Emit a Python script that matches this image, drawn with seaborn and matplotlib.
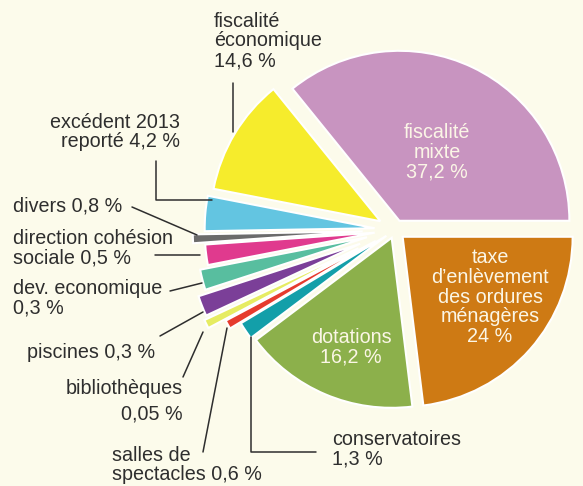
import matplotlib
matplotlib.use('Agg')
import matplotlib.pyplot as plt
import seaborn as sns

# ------------------------------------------------------------
# Data (budget revenue shares)
# ------------------------------------------------------------
categories = ['fiscalité mixte', 'fiscalité économique', 'excédent 2013 reporté',
              'divers', 'direction cohésion sociale', 'dev. economique', 'piscines',
              'bibliothèques', 'salles de spectacles', 'conservatoires', 'dotations',
              'taxe d’enlèvement des ordures ménagères']
percent = [37.2, 14.6, 4.2, 0.8, 0.5, 0.3, 0.3, 0.05, 0.6, 1.3, 16.2, 24]
# the original drawing is not to scale: angular width of each slice as drawn (degrees)
drawn_deg = [129, 40, 12, 3, 7, 7, 7, 3, 3, 6, 60, 83]

colors = ['#C894C0', '#F6EC2C', '#63C5E1', '#6B6B6B', '#E03A8E', '#58BE9F',
          '#7B3F98', '#E6EC62', '#E63B2E', '#139FA9', '#8CB04B', '#CE7A14']
explode = [0.06, 0.1, 0.12, 0.19, 0.12, 0.17, 0.22, 0.24, 0.13, 0.06, 0.05, 0.06]


def fmt(v):
    return f'{v:g}'.replace('.', ',') + ' %'


sns.set_theme(style='white')
plt.rcParams['font.family'] = ['Liberation Sans', 'DejaVu Sans']

W, H = 583, 486
BG = '#FCFBEB'
TXT = '#2E2E2E'
LIGHT = '#FBF6E6'
fig = plt.figure(figsize=(W / 100, H / 100), dpi=100, facecolor=BG)
ax = fig.add_axes([0, 0, 1, 1])
ax.set_facecolor(BG)

ax.pie(drawn_deg, colors=colors, explode=explode, startangle=0, counterclock=True,
       radius=1, wedgeprops=dict(edgecolor='white', linewidth=1.5))

# pie centre sits at pixel (395, 230), 170 px per radius unit
cx, cy, s = 395, 230, 170
ax.set_xlim(-cx / s, (W - cx) / s)
ax.set_ylim(-(H - cy) / s, cy / s)
ax.set_aspect('equal')
ax.axis('off')


def px(x, y):
    return x / W, 1 - y / H


def label(x, y, txt, ha='left', color=TXT, size=14.2):
    fig.text(*px(x, y), txt, ha=ha, va='center', color=color, fontsize=size,
             linespacing=1.04)


def leader(xs, ys):
    fx = [x / W for x in xs]
    fy = [1 - y / H for y in ys]
    ax.plot(fx, fy, color=TXT, lw=1.1, transform=fig.transFigure, clip_on=False)


# labels inside the big slices
label(437, 152, f'fiscalité\nmixte\n{fmt(percent[0])}', ha='center', color=LIGHT)
label(490, 297, f'taxe\nd’enlèvement\ndes ordures\nménagères\n{fmt(percent[11])}',
      ha='center', color=LIGHT)
label(351, 347, f'dotations\n{fmt(percent[10])}', ha='center', color=LIGHT)

# outside labels with leader lines
label(214, 41, f'fiscalité\néconomique\n{fmt(percent[1])}')
leader([233, 233], [83, 132])

label(180, 132, f'excédent 2013\nreporté {fmt(percent[2])}', ha='right')
leader([156, 156, 212], [161, 200, 200])

label(13, 206, f'divers {fmt(percent[3])}')
leader([132, 197], [207, 235])

label(13, 248, f'direction cohésion\nsociale {fmt(percent[4])}')
leader([155, 200], [255, 255])

label(13, 298, f'dev. economique\n{fmt(percent[5])}')
leader([170, 202], [291, 283])

label(27, 352, f'piscines {fmt(percent[6])}')
leader([160, 203], [336, 312])

label(183, 389, 'bibliothèques', ha='right')
label(183, 414, fmt(percent[7]), ha='right')
leader([183, 203], [377, 332])

label(112, 465, f'salles de\nspectacles {fmt(percent[8])}')
leader([203, 227], [452, 328])

label(332, 449, f'conservatoires\n{fmt(percent[9])}')
leader([251, 251, 316], [337, 452, 452])

fig.savefig('out.png', dpi=100, facecolor=BG)
plt.close(fig)
